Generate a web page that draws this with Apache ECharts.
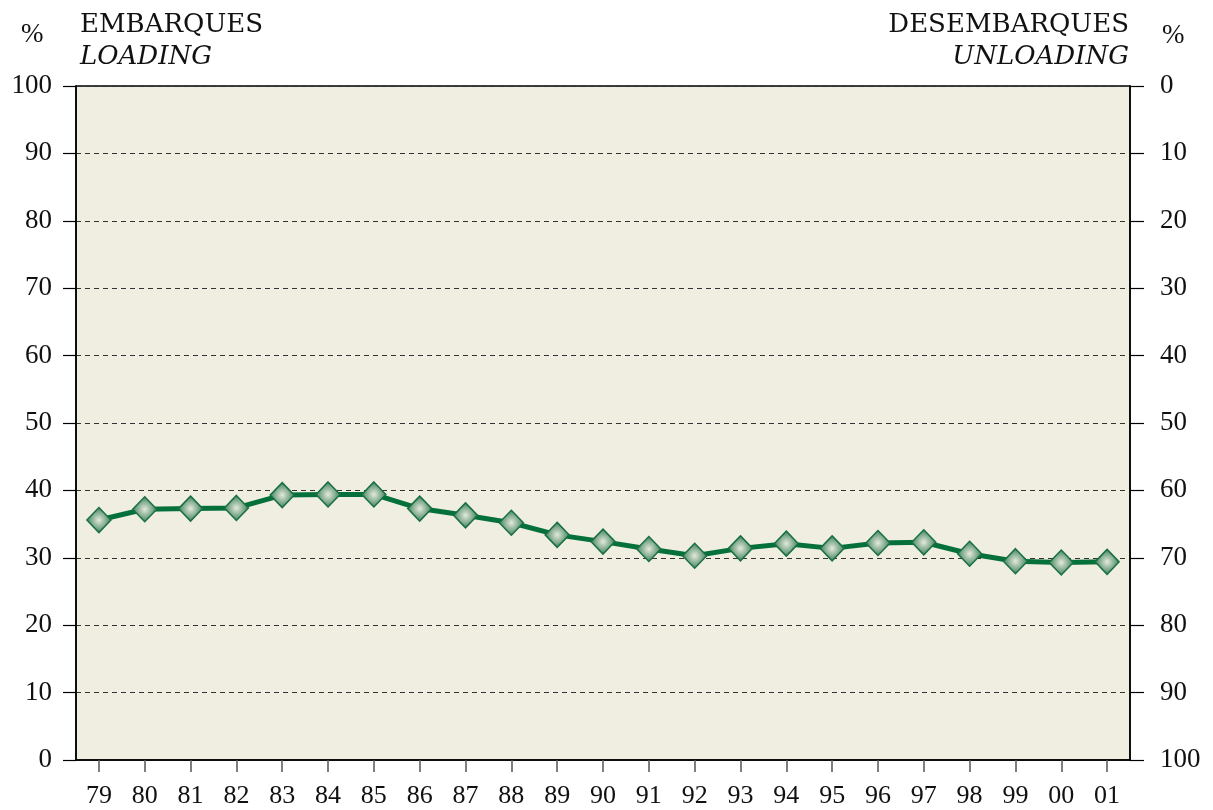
<!DOCTYPE html>
<html><head><meta charset="utf-8">
<script src="https://cdn.jsdelivr.net/npm/echarts@6/dist/echarts.min.js"></script>
<style>html,body{margin:0;padding:0;background:#fff}#c{width:1213px;height:810px}</style>
</head><body><div id="c"></div>
<script>
const years = ['79','80','81','82','83','84','85','86','87','88','89','90','91','92','93','94','95','96','97','98','99','00','01'];
const loading = [35.6,37.2,37.3,37.4,39.3,39.4,39.4,37.3,36.3,35.2,33.4,32.4,31.3,30.3,31.4,32.1,31.4,32.2,32.3,30.6,29.5,29.3,29.4];
const leftTicks = [0,10,20,30,40,50,60,70,80,90,100];

const TICKFONT = 'Liberation Serif';
const chart = echarts.init(document.getElementById('c'), null, {renderer:'canvas'});
chart.setOption({
  animation:false,
  backgroundColor:'#ffffff',
  grid:{left:76,right:83,top:86,bottom:50,show:true,backgroundColor:'#f0ede1',borderColor:'#000',borderWidth:1.5},
  xAxis:{type:'category',data:years,boundaryGap:true,
    axisLine:{show:true,lineStyle:{color:'#000',width:1.5}},
    axisTick:{show:true,alignWithLabel:true,length:12,lineStyle:{color:'#555',width:1.5}},
    axisLabel:{color:'#111',fontFamily:TICKFONT,fontSize:26,margin:23}},
  yAxis:[
    {type:'value',min:0,max:100,interval:10,position:'left',
     axisLine:{show:true,lineStyle:{color:'#000',width:1.5}},
     axisTick:{show:true,length:13,lineStyle:{color:'#000',width:1.2}},
     axisLabel:{color:'#111',fontFamily:TICKFONT,fontSize:27,margin:24},
     splitLine:{show:true,lineStyle:{color:'#333',type:[5,4],width:1}}},
    {type:'value',min:0,max:100,interval:10,position:'right',inverse:true,
     axisLine:{show:true,lineStyle:{color:'#000',width:1.5}},
     axisTick:{show:true,length:14,lineStyle:{color:'#000',width:1.2}},
     axisLabel:{color:'#111',fontFamily:TICKFONT,fontSize:27,margin:30},
     splitLine:{show:false}}
  ],
  graphic:[
    {type:'text',x:21,y:35,style:{text:'%',font:'27px "Liberation Serif"',fill:'#111',verticalAlign:'middle'}},
    {type:'text',x:80,y:25,style:{text:'EMBARQUES',font:'26px "DejaVu Serif"',fill:'#111',verticalAlign:'middle'}},
    {type:'text',x:80,y:57,style:{text:'LOADING',font:'italic 26px "DejaVu Serif"',fill:'#111',verticalAlign:'middle'}},
    {type:'text',x:1129,y:25,style:{text:'DESEMBARQUES',font:'26px "DejaVu Serif"',fill:'#111',align:'right',verticalAlign:'middle'}},
    {type:'text',x:1129,y:57,style:{text:'UNLOADING',font:'italic 26px "DejaVu Serif"',fill:'#111',align:'right',verticalAlign:'middle'}},
    {type:'text',x:1162,y:36,style:{text:'%',font:'27px "Liberation Serif"',fill:'#111',verticalAlign:'middle'}}
  ],
  series:[{type:'line',data:loading,yAxisIndex:0,
    lineStyle:{color:'#05703a',width:5},
    symbol:'diamond',symbolSize:[24,25],
    itemStyle:{color:{type:'radial',x:0.5,y:0.5,r:0.55,colorStops:[{offset:0,color:'#e4e9dc'},{offset:1,color:'#28744a'}]},borderColor:'#187040',borderWidth:1.5},
    z:5}]
});
</script></body></html>
